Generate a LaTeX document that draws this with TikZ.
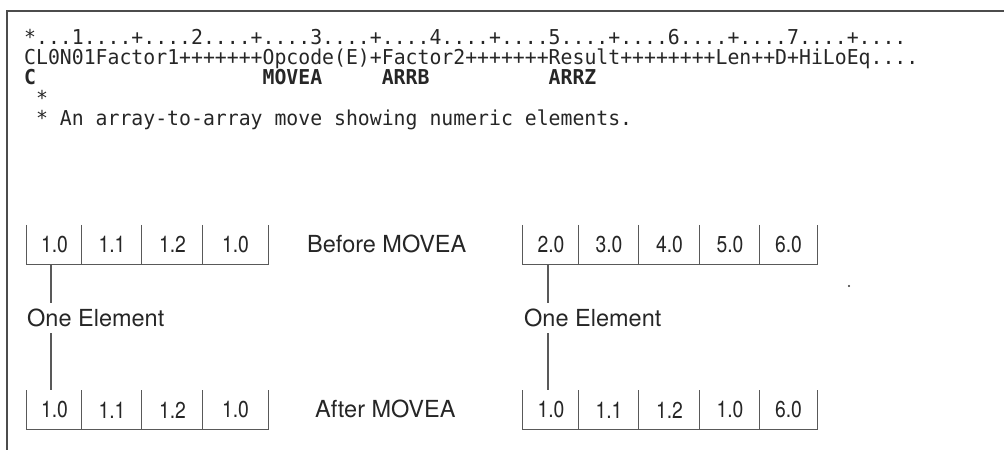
\documentclass[tikz,border=0pt]{standalone}
\usepackage{fontspec}
\setmainfont{TeX Gyre Heros}
\newfontfamily\monofam[FakeStretch=0.966]{DejaVu Sans Mono}
\newfontfamily\cellfam[FakeStretch=0.84]{TeX Gyre Heros}
\begin{document}
\begin{tikzpicture}[x=1pt,y=-1pt,
  code/.style={anchor=base west, inner sep=0pt, text=black!85, font=\monofam\fontsize{20.5}{22}\selectfont},
  codeb/.style={code, font=\monofam\bfseries\fontsize{20.5}{22}\selectfont},
  cell/.style={minimum height=39, inner sep=0pt, text=black!85, font=\cellfam\fontsize{23}{25}\selectfont},
  lab/.style={anchor=west, inner sep=0pt, minimum height=30, text=black!85, font=\fontsize{23.5}{26}\selectfont},
  gridline/.style={draw=black!65, line width=1.1pt},
  frame/.style={draw=black!70, line width=1.5pt}
]
\useasboundingbox (0,0) rectangle (1004,450);
\draw[frame] (1004,11) -- (7,11) -- (7,450);

% code listing
\node[code] (r1) at (24,44) {*...1....+....2....+....3....+....4....+....5....+....6....+....7....+....};
\node[code] (r2) at (24,64.3) {CL0N01Factor1+++++++Opcode(E)+Factor2+++++++Result++++++++Len++D+HiLoEq....};
\node[codeb] (r3a) at (24,84.6) {C};
\node[codeb] (r3b) at (262.4,84.6) {MOVEA};
\node[codeb] (r3c) at (381.6,84.6) {ARRB};
\node[codeb] (r3d) at (548.5,84.6) {ARRZ};
\node[code] (r4) at (35.9,105) {*};
\node[code] (r5) at (35.9,125.2) {* An array-to-array move showing numeric elements.};

% left, before
\node[cell, minimum width=55] (a1) at (54.5,244.5) {1.0};
\node[cell, minimum width=60] (a2) at (112,244.5) {1.1};
\node[cell, minimum width=61] (a3) at (172.5,244.5) {1.2};
\node[cell, minimum width=65] (a4) at (235.5,244.5) {1.0};
\draw[gridline] (a1.north west) -- (a1.south west) -- (a4.south east) -- (a4.north east);
\foreach \c in {a2,a3,a4} \draw[gridline] (\c.north west) -- (\c.south west);

% left, after
\node[cell, minimum width=55] (b1) at (54.5,410) {1.0};
\node[cell, minimum width=60] (b2) at (112,410) {1.1};
\node[cell, minimum width=61] (b3) at (172.5,410) {1.2};
\node[cell, minimum width=65] (b4) at (235.5,410) {1.0};
\draw[gridline] (b1.north west) -- (b1.south west) -- (b4.south east) -- (b4.north east);
\foreach \c in {b2,b3,b4} \draw[gridline] (\c.north west) -- (\c.south west);

% right, before
\node[cell, minimum width=56] (c1) at (551,244.5) {2.0};
\node[cell, minimum width=60] (c2) at (609,244.5) {3.0};
\node[cell, minimum width=61] (c3) at (669.5,244.5) {4.0};
\node[cell, minimum width=60] (c4) at (730,244.5) {5.0};
\node[cell, minimum width=57] (c5) at (788.5,244.5) {6.0};
\draw[gridline] (c1.north west) -- (c1.south west) -- (c5.south east) -- (c5.north east);
\foreach \c in {c2,c3,c4,c5} \draw[gridline] (\c.north west) -- (\c.south west);

% right, after
\node[cell, minimum width=56] (d1) at (551,410) {1.0};
\node[cell, minimum width=60] (d2) at (609,410) {1.1};
\node[cell, minimum width=61] (d3) at (669.5,410) {1.2};
\node[cell, minimum width=60] (d4) at (730,410) {1.0};
\node[cell, minimum width=57] (d5) at (788.5,410) {6.0};
\draw[gridline] (d1.north west) -- (d1.south west) -- (d5.south east) -- (d5.north east);
\foreach \c in {d2,d3,d4,d5} \draw[gridline] (\c.north west) -- (\c.south west);

% labels
\node[lab] (bef) at (307,244) {Before MOVEA};
\node[lab] (aft) at (315,409) {After MOVEA};
\node[lab] (oe1) at (27,318) {One Element};
\node[lab] (oe2) at (524,318) {One Element};

% connectors
\coordinate (k1) at ([xshift=-3.5pt]a1.south);
\coordinate (k2) at ([xshift=-3pt]c1.south);
\draw[gridline] (k1) -- (k1 |- oe1.north);
\draw[gridline] (k1 |- oe1.south) -- (k1 |- b1.north);
\draw[gridline] (k2) -- (k2 |- oe2.north);
\draw[gridline] (k2 |- oe2.south) -- (k2 |- d1.north);

% stray dot
\fill[black!80] (849,286) circle (1.2);
\end{tikzpicture}
\end{document}
